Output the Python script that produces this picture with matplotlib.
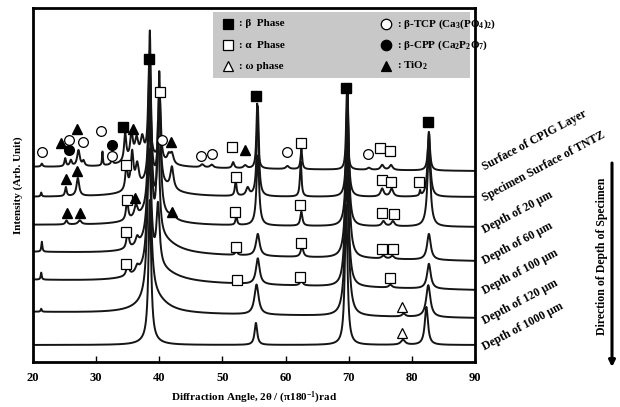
import matplotlib
matplotlib.use('Agg')
import matplotlib.pyplot as plt
from matplotlib.patches import Rectangle
import numpy as np

plt.rcParams['font.family'] = ['Liberation Serif', 'DejaVu Serif']
plt.rcParams['font.weight'] = 'bold'
plt.rcParams['mathtext.fontset'] = 'custom'
plt.rcParams['mathtext.rm'] = 'Liberation Serif:bold'
plt.rcParams['mathtext.default'] = 'rm'

# --- data -----------------------------------------------------------------
# each trace: label, baseline at 20 deg, baseline at 90 deg,
# peaks as (2theta, height, half width)
labels = ['Surface of CPIG Layer', 'Specimen Surface of TNTZ', 'Depth of 20 \u03bcm',
          'Depth of 60 \u03bcm', 'Depth of 100 \u03bcm', 'Depth of 120 \u03bcm',
          'Depth of 1000 \u03bcm']
base_left = [195, 165, 137, 110, 82, 50, 17]
base_right = [191, 165, 135, 101, 72, 44, 17]
label_y = [194, 163, 131, 100, 70, 40, 14]

peaks_cpig = [(21.4, 3, 0.15), (25.1, 8, 0.15), (26.0, 6, 0.2), (27.2, 16, 0.25),
              (28.0, 5, 0.2), (31.0, 14, 0.08), (32.5, 4, 0.2), (34.6, 28, 0.2),
              (35.6, 26, 0.25), (36.4, 18, 0.3), (37.3, 18, 0.3), (38.4, 95, 0.2),
              (40.1, 62, 0.2), (41.5, 8, 0.3), (42.0, 10, 0.3), (46.8, 3, 0.3),
              (48.3, 3, 0.3), (51.7, 6, 0.2), (53.6, 3, 0.3), (55.5, 65, 0.15),
              (60.3, 3, 0.3), (62.5, 20, 0.15), (69.7, 75, 0.15), (73.2, 2, 0.3),
              (75.3, 5, 0.3), (76.7, 5, 0.3), (82.7, 38, 0.2), (37.5, 10, 3.0)]
peaks_tntz = [(21.3, 4, 0.1), (25.2, 9, 0.15), (27.1, 18, 0.25), (34.8, 26, 0.2),
              (35.7, 36, 0.25), (36.5, 22, 0.3), (38.5, 150, 0.2), (40.0, 110, 0.2),
              (42.0, 22, 0.3), (52.1, 16, 0.15), (54.0, 8, 0.3), (55.6, 90, 0.2),
              (62.4, 35, 0.15), (69.8, 110, 0.2), (75.3, 8, 0.3), (76.8, 8, 0.3),
              (81.3, 5, 0.1), (82.7, 65, 0.25), (39.0, 14, 3.0)]
peaks_d20 = [(25.3, 4, 0.2), (27.4, 4, 0.3), (34.9, 20, 0.2), (36.3, 12, 0.3),
             (38.5, 160, 0.25), (40.0, 120, 0.25), (42.1, 8, 0.3), (52.2, 9, 0.15),
             (55.6, 70, 0.25), (62.5, 14, 0.2), (69.8, 130, 0.25), (75.5, 5, 0.3),
             (77.0, 5, 0.3), (82.7, 75, 0.3), (39.0, 12, 3.0)]
peaks_d60 = [(21.4, 10, 0.1), (35.0, 20, 0.2), (36.5, 8, 0.3), (38.5, 165, 0.3),
             (39.8, 110, 0.25), (52.2, 4, 0.2), (55.6, 22, 0.35), (62.6, 10, 0.25),
             (69.8, 150, 0.3), (75.5, 3, 0.3), (76.9, 3, 0.3), (82.7, 26, 0.35),
             (40.0, 15, 3.0)]
peaks_d100 = [(21.3, 7, 0.1), (35.0, 15, 0.2), (36.5, 6, 0.3), (38.4, 160, 0.3),
              (39.8, 60, 0.3), (52.4, 3, 0.2), (55.6, 26, 0.35), (62.5, 5, 0.25),
              (69.7, 150, 0.3), (76.6, 3, 0.3), (82.7, 25, 0.35), (39.5, 14, 3.5)]
peaks_d120 = [(21.3, 3, 0.1), (38.4, 150, 0.35), (55.4, 30, 0.4), (69.7, 140, 0.35),
              (78.7, 3, 0.3), (82.6, 32, 0.4), (39.0, 16, 2.5)]
peaks_d1000 = [(38.5, 140, 0.25), (55.3, 22, 0.25), (69.6, 140, 0.25), (78.6, 5, 0.4),
               (82.3, 38, 0.3), (38.5, 5, 1.5)]
peak_sets = [peaks_cpig, peaks_tntz, peaks_d20, peaks_d60, peaks_d100,
             peaks_d120, peaks_d1000]

# phase markers (2theta, level)
beta_x = [38.4, 34.3, 55.3, 69.6, 82.6]
beta_y = [303, 235, 266, 274, 240]
alpha_x = [40.1, 51.5, 62.5, 75.0, 76.6, 34.7, 52.2, 75.2, 76.7, 81.2,
           34.9, 52.0, 62.3, 75.3, 77.1, 34.7, 52.2, 62.5, 75.2, 77.0,
           34.7, 52.3, 62.3, 76.6]
alpha_y = [270, 215, 219, 214, 211, 197, 185, 182, 180, 180,
           162, 150, 157, 149, 148, 130, 115, 119, 113, 113,
           98, 82, 85, 84]
omega_x = [78.5, 78.5]
omega_y = [55, 29]
tcp_x = [21.4, 25.7, 27.9, 30.8, 32.5, 40.4, 46.6, 48.4, 60.3, 73.1]
tcp_y = [210, 222, 220, 231, 206, 222, 206, 208, 210, 208]
cpp_x = [25.7, 32.5]
cpp_y = [212, 217]
tio2_x = [24.4, 27.0, 35.8, 41.9, 53.6, 25.2, 27.0, 25.4, 27.4, 36.2, 42.0]
tio2_y = [219, 233, 233, 220, 212, 183, 191, 149, 149, 164, 150]

x_ticks = [20, 30, 40, 50, 60, 70, 80, 90]

# --- figure ---------------------------------------------------------------
fig = plt.figure(figsize=(6.2, 4.07), dpi=100)
ax = fig.add_axes([33 / 620, 45 / 407, 442 / 620, 354 / 407])

two_theta = np.linspace(20, 90, 4000)
for i, peaks in enumerate(peak_sets):
    y = base_left[i] + (base_right[i] - base_left[i]) * (two_theta - 20) / 70
    for c, h, w in peaks:
        y = y + h * w ** 2 / ((two_theta - c) ** 2 + w ** 2)
    ax.plot(two_theta, y, color='#151515', lw=1.4, zorder=2)
    ax.text(91.3, label_y[i], labels[i], rotation=28, rotation_mode='anchor',
            ha='left', va='center', fontsize=8.5, clip_on=False)

ms = 7.5
ax.plot(beta_x, beta_y, 's', ms=ms, mfc='k', mec='k', ls='none', zorder=4)
ax.plot(alpha_x, alpha_y, 's', ms=ms, mfc='white', mec='k', mew=0.9, ls='none', zorder=4)
ax.plot(omega_x, omega_y, '^', ms=ms, mfc='white', mec='k', mew=0.9, ls='none', zorder=4)
ax.plot(tcp_x, tcp_y, 'o', ms=7, mfc='white', mec='k', mew=0.9, ls='none', zorder=4)
ax.plot(cpp_x, cpp_y, 'o', ms=7, mfc='k', mec='k', ls='none', zorder=4)
ax.plot(tio2_x, tio2_y, '^', ms=ms, mfc='k', mec='k', ls='none', zorder=4)

# legend box
ax.add_patch(Rectangle((0.407, 0.802), 0.582, 0.187, transform=ax.transAxes,
                       facecolor='#c8c8c8', edgecolor='none', zorder=5))
leg = [(0.441, 0.955, 's', 'k', ': \u03b2  Phase'),
       (0.441, 0.895, 's', 'white', ': \u03b1  Phase'),
       (0.441, 0.836, '^', 'white', ': \u03c9 phase'),
       (0.799, 0.955, 'o', 'white', ': \u03b2-TCP (Ca$_3$(PO$_4$)$_2$)'),
       (0.799, 0.895, 'o', 'k', ': \u03b2-CPP (Ca$_2$P$_2$O$_7$)'),
       (0.799, 0.836, '^', 'k', ': TiO$_2$')]
for lx, ly, mk, fc, txt in leg:
    ax.plot([lx], [ly], mk, ms=ms, mfc=fc, mec='k', mew=0.9,
            transform=ax.transAxes, zorder=6, clip_on=False)
    ax.text(lx + 0.025, ly, txt, transform=ax.transAxes, ha='left', va='center',
            fontsize=8, zorder=6)

ax.set_xlim(20, 90)
ax.set_ylim(0, 354)
ax.set_xticks(x_ticks)
ax.set_yticks([])
ax.tick_params(axis='x', direction='in', length=4, width=1, pad=7, labelsize=9)
for s in ax.spines.values():
    s.set_linewidth(2)

fig.text(18 / 620, 1 - 185 / 407, 'Intensity (Arb. Unit)', rotation=90,
         ha='center', va='center', fontsize=8)
fig.text(254 / 620, 1 - 398 / 407, 'Diffraction Angle, 2\u03b8 / (\u03c0180$^{-1}$)rad',
         ha='center', va='center', fontsize=8)
fig.text(602 / 620, 1 - 256 / 407, 'Direction of Depth of Specimen', rotation=90,
         ha='center', va='center', fontsize=8.5)
ax.annotate('', xy=(612, 407 - 367), xytext=(612, 407 - 163),
            xycoords='figure pixels', textcoords='figure pixels',
            arrowprops=dict(arrowstyle='-|>', lw=2.2, color='k',
                            mutation_scale=9, shrinkA=0, shrinkB=0))

fig.savefig('out.png', dpi=100)
